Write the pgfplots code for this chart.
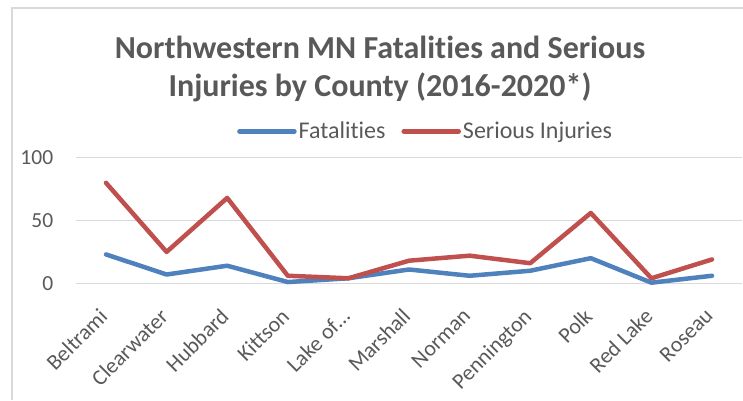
\documentclass[border=0pt]{standalone}
\usepackage{fontspec}
\setmainfont{Carlito}[Ligatures={NoCommon,NoRare}]
\usepackage{pgfplots}
\pgfplotsset{compat=1.18}
\definecolor{fatal}{HTML}{4F81BD}
\definecolor{serious}{HTML}{C0504D}
\definecolor{txt}{HTML}{595959}
\definecolor{gridc}{HTML}{D9D9D9}
\begin{document}
\begin{tikzpicture}[x=1pt,y=1pt]
\useasboundingbox (0,0) rectangle (743,400);
\draw[gridc, line width=1.3pt] (12,0) -- (12,392) -- (743,392);
\node[txt, font=\fontsize{32}{38}\selectfont\bfseries, align=center] at (380,331) {Northwestern MN Fatalities and Serious\\Injuries by County (2016-2020*)};
\begin{axis}[
  at={(75.7pt,116.7pt)}, anchor=south west,
  width=666.6pt, height=125.6pt, scale only axis,
  xmin=-0.5, xmax=10.5, ymin=0, ymax=100,
  ytick={0,50,100}, xtick={0,...,10},
  xticklabels={Beltrami,Clearwater,Hubbard,Kittson,Lake of…,Marshall,Norman,Pennington,Polk,Red Lake,Roseau},
  axis line style={draw=none},
  ymajorgrids, grid style={gridc, line width=1.3pt},
  major tick length=0pt,
  tick label style={txt},
  yticklabel style={font=\fontsize{21.5}{21.5}\selectfont, xshift=-19pt},
  /pgf/number format/assume math mode=true,
  xticklabel style={font=\fontsize{22}{22}\selectfont, xshift=-8pt, yshift=-19pt, rotate=45, anchor=north east},
  clip=false,
  legend columns=2,
  legend style={draw=none, fill=none, at={(0.525,1.21)}, anchor=center,
    font=\fontsize{24}{24}\selectfont, text=txt,
    nodes={inner xsep=2pt},
    /tikz/every even column/.append style={column sep=14pt}},
  legend image code/.code={\draw[#1] (0pt,0pt) -- (55pt,0pt);},
]
\addplot[fatal, line width=4.5pt, line cap=round, line join=round] coordinates {
(0,23) (1,7) (2,14) (3,1) (4,4) (5,11) (6,6) (7,10) (8,20) (9,0.5) (10,6)};
\addlegendentry{Fatalities}
\addplot[serious, line width=4.5pt, line cap=round, line join=round] coordinates {
(0,80) (1,25) (2,68) (3,6) (4,4) (5,18) (6,22) (7,16) (8,56) (9,4) (10,19)};
\addlegendentry{Serious Injuries}
\end{axis}
\end{tikzpicture}
\end{document}
